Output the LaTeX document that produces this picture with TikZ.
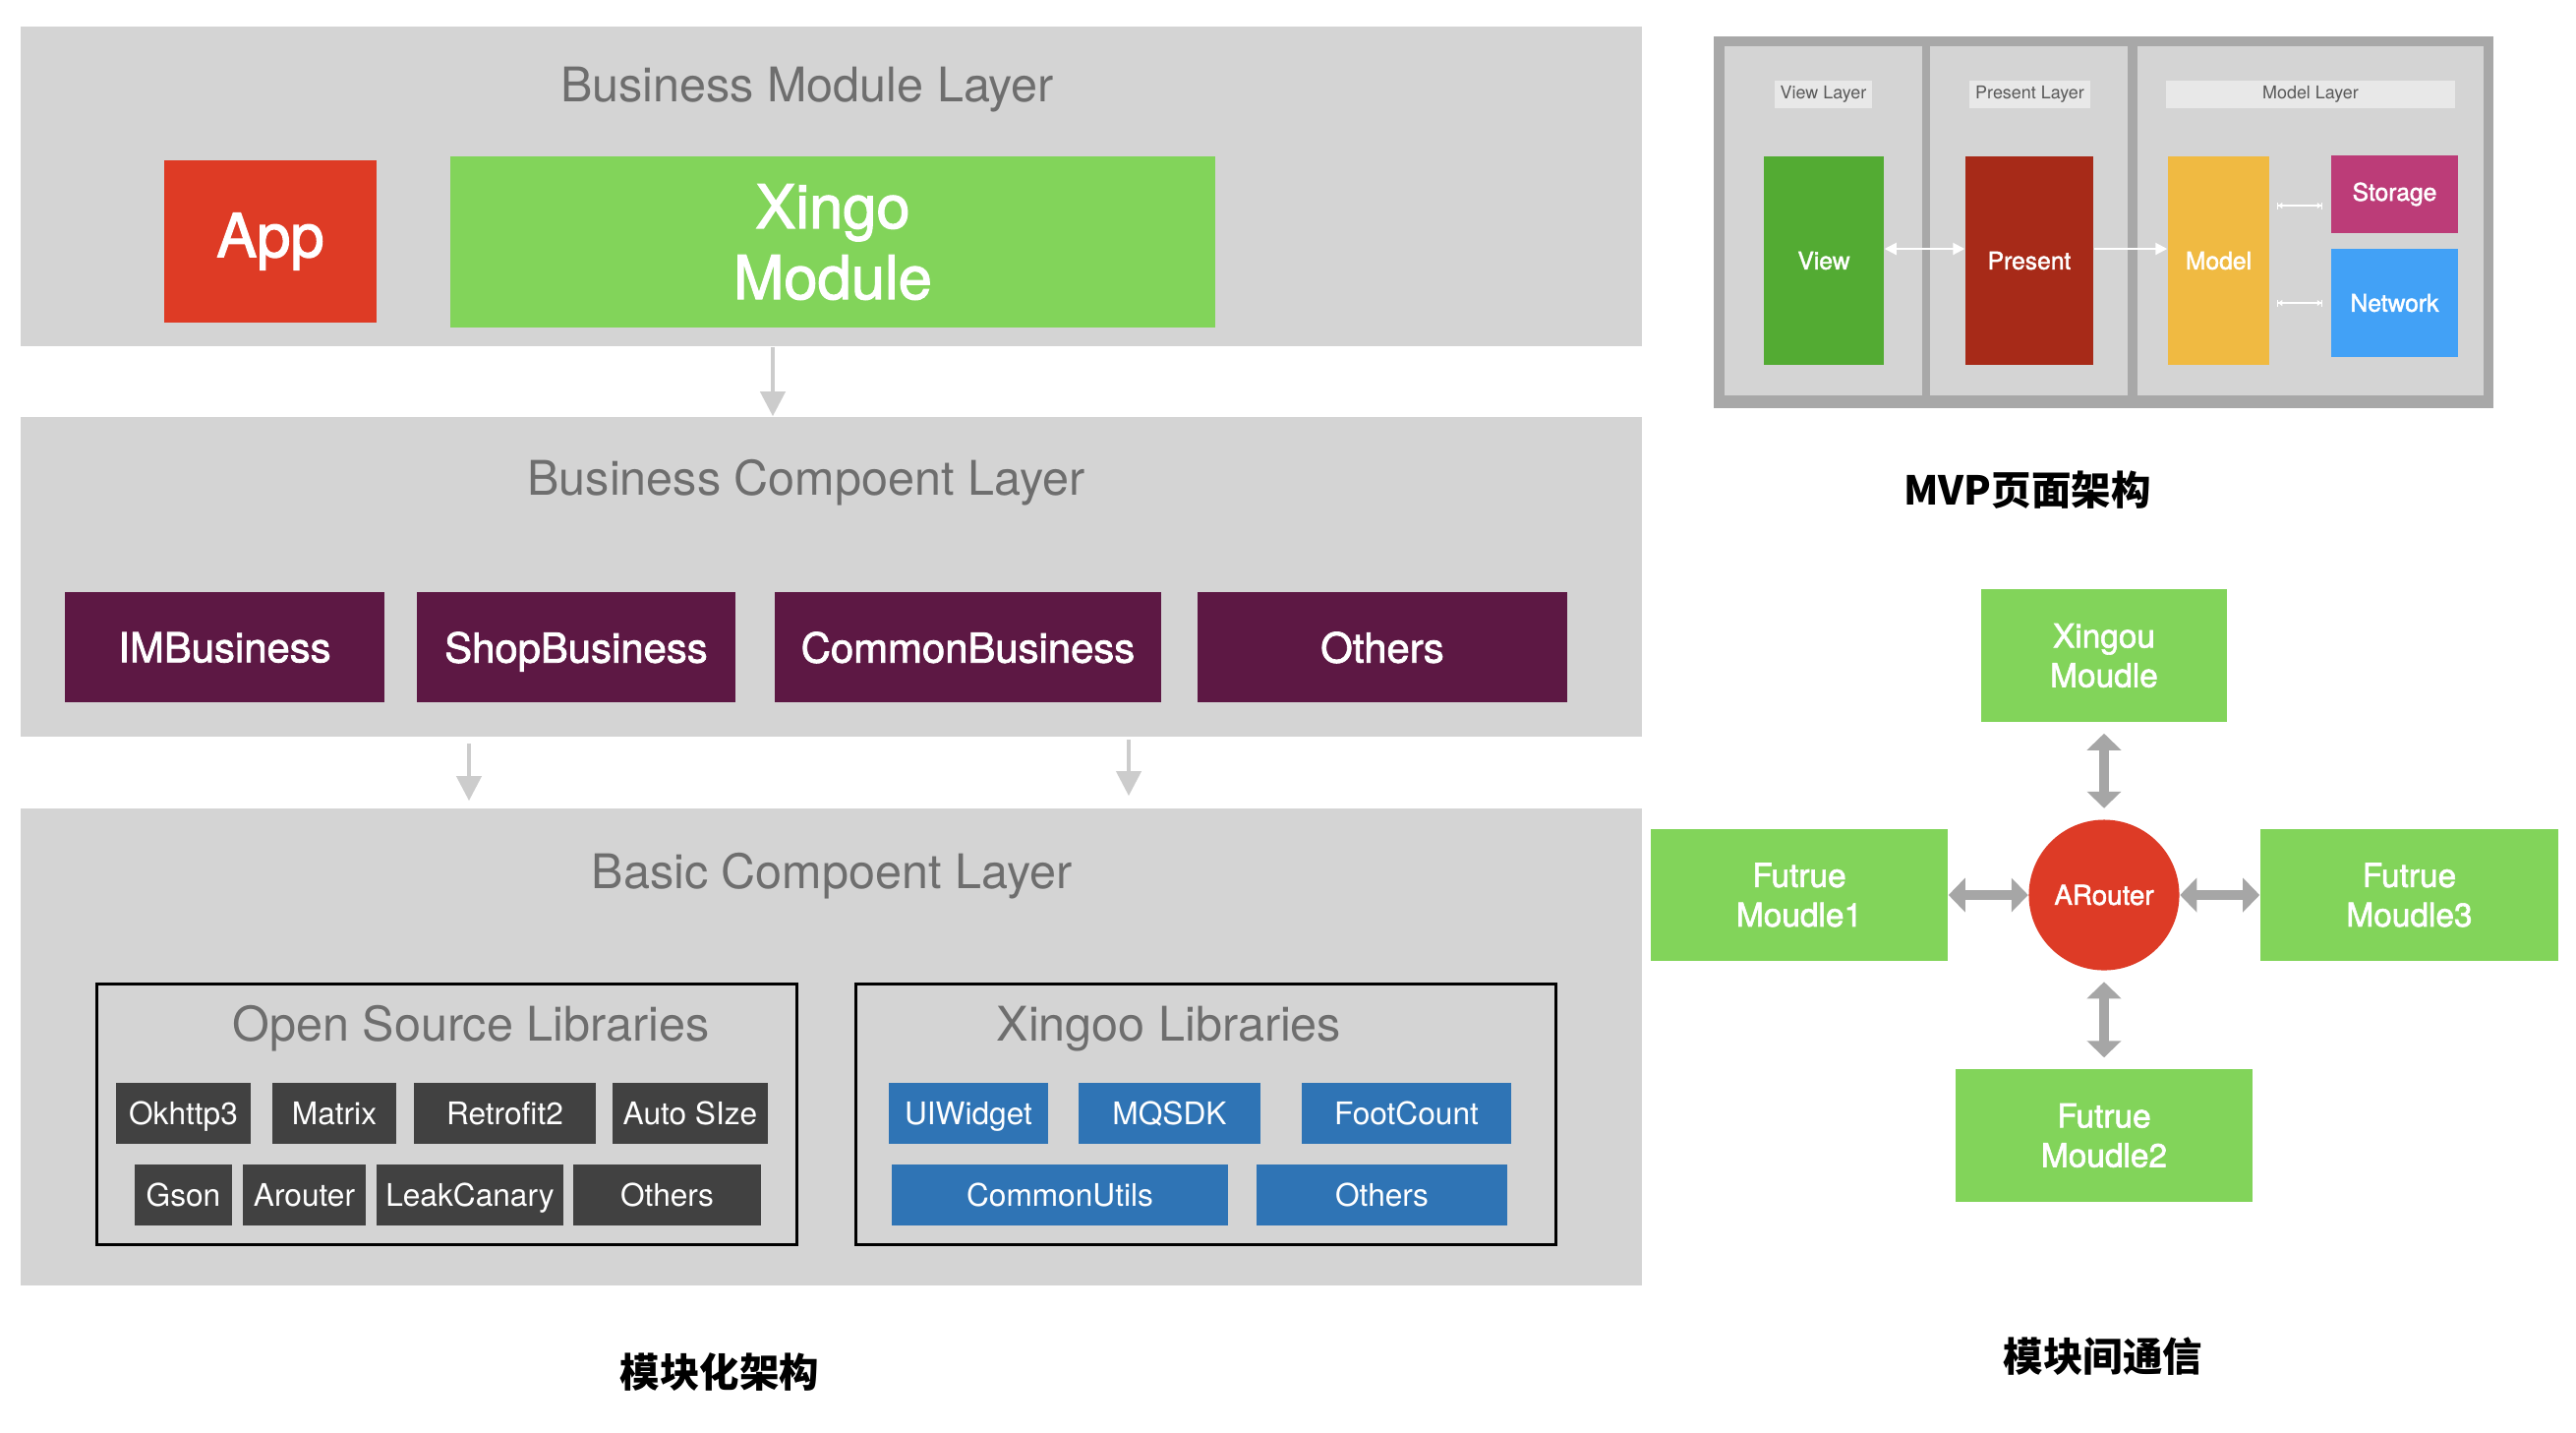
\documentclass[tikz,border=0pt]{standalone}
\usepackage{fontspec}
\setmainfont{TeX Gyre Heros}
\newfontfamily\medfont{TeX Gyre Heros}[FakeBold=1.8]
\newfontfamily\cjk{Noto Sans CJK SC}
\usetikzlibrary{arrows.meta}

\definecolor{panelgray}{HTML}{D4D4D4}
\definecolor{titlegray}{HTML}{6E6E6E}
\definecolor{appred}{HTML}{DE3B25}
\definecolor{modgreen}{HTML}{82D45A}
\definecolor{bizpurple}{HTML}{5D1844}
\definecolor{osgray}{HTML}{414141}
\definecolor{libblue}{HTML}{2F74B5}
\definecolor{arrowlight}{HTML}{CCCCCC}
\definecolor{mvpouter}{HTML}{A8A8A8}
\definecolor{mvplabel}{HTML}{E8E8E8}
\definecolor{viewgreen}{HTML}{53AB33}
\definecolor{presentred}{HTML}{A72A18}
\definecolor{modelyellow}{HTML}{F0BA42}
\definecolor{storagepink}{HTML}{BC3C78}
\definecolor{networkblue}{HTML}{42A1F6}
\definecolor{routerred}{HTML}{DD3B26}
\definecolor{routergray}{HTML}{A6A6A6}

\begin{document}
\begin{tikzpicture}[x=0.01cm, y=-0.01cm,
    layer/.style={fill=panelgray, minimum width=16.49cm, inner sep=0},
    layertitle/.style={text=titlegray, font=\fontsize{13.8}{16}\selectfont, anchor=base},
    bigbox/.style={text=white, font=\medfont\fontsize{17.5}{20.5}\selectfont, align=center, inner sep=0},
    bizbox/.style={fill=bizpurple, text=white, font=\medfont\fontsize{11.9}{14}\selectfont,
        minimum height=1.12cm, inner sep=0, text depth=0pt},
    libframe/.style={draw=black, line width=0.03cm, fill=panelgray,
        minimum width=7.11cm, minimum height=2.64cm, inner sep=0},
    osbox/.style={fill=osgray, text=white, font=\fontsize{9}{11}\selectfont,
        minimum height=0.62cm, inner sep=0, text depth=0pt},
    xlbox/.style={osbox, fill=libblue},
    layerarrow/.style={draw=arrowlight, line width=0.04cm,
        -{Triangle[width=0.25cm,length=0.25cm]}},
    mvpcol/.style={fill=panelgray, minimum height=3.55cm, inner sep=0},
    mvplab/.style={fill=mvplabel, text=black!65, font=\fontsize{5.1}{6}\selectfont,
        minimum height=0.28cm, inner sep=0},
    mvpbox/.style={text=white, font=\medfont\fontsize{7}{8}\selectfont, inner sep=0},
    mvparrow/.style={draw=white, line width=0.02cm},
    modbox/.style={fill=modgreen, text=white, font=\medfont\fontsize{9.5}{11.4}\selectfont,
        align=center, inner sep=0},
    routerarrow/.style={draw=routergray, line width=0.1cm,
        {Triangle[width=0.34cm,length=0.17cm]}-{Triangle[width=0.34cm,length=0.17cm]}},
    caption/.style={font=\cjk\bfseries\fontsize{11.5}{14}\selectfont}]

    \useasboundingbox (0,0) rectangle (2620,1456);

    % Business module layer
    \node[layer, minimum height=3.25cm] (bml) at (845.5,189.5) {};
    \node[layertitle] (bmltitle) at (821,103) {Business Module Layer};
    \node[bigbox, fill=appred, minimum width=2.16cm, minimum height=1.65cm] (app) at (275,245.5) {App};
    \node[bigbox, fill=modgreen, minimum width=7.78cm, minimum height=1.74cm] (xingo) at (847,246) {Xingo\\Module};

    % Business component layer
    \node[layer, minimum height=3.25cm] (bcl) at (845.5,586.5) {};
    \node[layertitle] (bcltitle) at (820,503) {Business Compoent Layer};
    \node[bizbox, minimum width=3.25cm] (imb) at (228.5,658) {IMBusiness};
    \node[bizbox, minimum width=3.24cm] (shopb) at (586,658) {ShopBusiness};
    \node[bizbox, minimum width=3.93cm] (commonb) at (984.5,658) {CommonBusiness};
    \node[bizbox, minimum width=3.76cm] (othersb) at (1406,658) {Others};

    % Basic component layer
    \node[layer, minimum height=4.85cm] (basic) at (845.5,1064.5) {};
    \node[layertitle] (basictitle) at (846,903) {Basic Compoent Layer};

    % Open source libraries
    \node[libframe] (oslib) at (454.5,1133) {};
    \node[layertitle] (ostitle) at (479,1058) {Open Source Libraries};
    \node[osbox, minimum width=1.37cm] (okhttp) at (186.5,1132) {Okhttp3};
    \node[osbox, minimum width=1.26cm] (matrix) at (340,1132) {Matrix};
    \node[osbox, minimum width=1.85cm] (retrofit) at (513.5,1132) {Retrofit2};
    \node[osbox, minimum width=1.58cm] (autosize) at (702,1132) {Auto SIze};
    \node[osbox, minimum width=0.99cm] (gson) at (186.5,1215) {Gson};
    \node[osbox, minimum width=1.25cm] (arouter) at (309.5,1215) {Arouter};
    \node[osbox, minimum width=1.90cm] (leak) at (478,1215) {LeakCanary};
    \node[osbox, minimum width=1.91cm] (othersos) at (678.5,1215) {Others};

    % Xingoo libraries
    \node[libframe] (xglib) at (1226.5,1133) {};
    \node[layertitle] (xgtitle) at (1189,1058) {Xingoo Libraries};
    \node[xlbox, minimum width=1.62cm] (uiwidget) at (985,1132) {UIWidget};
    \node[xlbox, minimum width=1.85cm] (mqsdk) at (1189.5,1132) {MQSDK};
    \node[xlbox, minimum width=2.13cm] (footcount) at (1430.5,1132) {FootCount};
    \node[xlbox, minimum width=3.42cm] (commonutils) at (1078,1215) {CommonUtils};
    \node[xlbox, minimum width=2.55cm] (othersxl) at (1405.5,1215) {Others};

    % Arrows between layers
    \coordinate (a1) at (786,0);
    \coordinate (a2) at (477,0);
    \coordinate (a3) at (1148,0);
    \draw[layerarrow] (bml.south -| a1) -- (bcl.north -| a1);
    \draw[layerarrow, shorten <=0.06cm, shorten >=0.07cm] (bcl.south -| a2) -- (basic.north -| a2);
    \draw[layerarrow, shorten <=0.02cm, shorten >=0.12cm] (bcl.south -| a3) -- (basic.north -| a3);

    \node[caption] (cap1) at (732,1395) {模块化架构};

    % MVP page architecture
    \node[fill=mvpouter, minimum width=7.93cm, minimum height=3.78cm, inner sep=0] (mvp) at (2139.5,226) {};
    \node[mvpcol, minimum width=2.01cm] (col1) at (1854.5,224.5) {};
    \node[mvpcol, minimum width=2.01cm] (col2) at (2063.5,224.5) {};
    \node[mvpcol, minimum width=3.52cm] (col3) at (2350,224.5) {};
    \node[mvplab, minimum width=0.99cm] (viewlab) at (1854.5,96) {View Layer};
    \node[mvplab, minimum width=1.23cm] (presentlab) at (2064.5,96) {Present Layer};
    \node[mvplab, minimum width=2.94cm] (modellab) at (2350,96) {Model Layer};
    \node[mvpbox, fill=viewgreen, minimum width=1.22cm, minimum height=2.12cm] (view) at (1855,265) {View};
    \node[mvpbox, fill=presentred, minimum width=1.30cm, minimum height=2.12cm] (present) at (2064,265) {Present};
    \node[mvpbox, fill=modelyellow, minimum width=1.03cm, minimum height=2.12cm] (model) at (2256.5,265) {Model};
    \node[mvpbox, fill=storagepink, minimum width=1.29cm, minimum height=0.79cm] (storage) at (2435.5,197.5) {Storage};
    \node[mvpbox, fill=networkblue, minimum width=1.29cm, minimum height=1.10cm] (network) at (2435.5,308) {Network};

    \draw[mvparrow, {Triangle[width=0.12cm,length=0.12cm]}-{Triangle[width=0.12cm,length=0.12cm]}]
        ([yshift=0.12cm]view.east) -- ([yshift=0.12cm]present.west);
    \draw[mvparrow, -{Triangle[width=0.12cm,length=0.12cm]}]
        ([yshift=0.12cm]present.east) -- ([yshift=0.12cm]model.west);
    \draw[mvparrow, line width=0.015cm, shorten <=0.07cm, shorten >=0.08cm,
        {Bar[width=0.07cm]Triangle[width=0.06cm,length=0.04cm]}-{Triangle[width=0.06cm,length=0.04cm]Bar[width=0.07cm]}]
        ([yshift=-0.115cm]model.east |- storage.west) -- ([yshift=-0.115cm]storage.west);
    \draw[mvparrow, line width=0.015cm, shorten <=0.07cm, shorten >=0.08cm,
        {Bar[width=0.07cm]Triangle[width=0.06cm,length=0.04cm]}-{Triangle[width=0.06cm,length=0.04cm]Bar[width=0.07cm]}]
        (model.east |- network.west) -- (network.west);

    \node[caption] (cap2) at (2062,498) {MVP页面架构};

    % Communication between modules
    \node[circle, fill=routerred, text=white, minimum size=1.53cm, inner sep=0,
        font=\medfont\fontsize{7.9}{9}\selectfont] (router) at (2140,910) {ARouter};
    \node[modbox, minimum width=2.50cm, minimum height=1.35cm] (xingou) at (2140,666.5) {Xingou\\Moudle};
    \node[modbox, minimum width=3.02cm, minimum height=1.34cm] (fm1) at (1830,910) {Futrue\\Moudle1};
    \node[modbox, minimum width=3.03cm, minimum height=1.34cm] (fm3) at (2450.5,910) {Futrue\\Moudle3};
    \node[modbox, minimum width=3.02cm, minimum height=1.35cm] (fm2) at (2140,1154.5) {Futrue\\Moudle2};

    \draw[routerarrow, shorten <=0.11cm, shorten >=0.11cm] (xingou) -- (router);
    \draw[routerarrow, shorten <=0.11cm, shorten >=0.11cm] (router) -- (fm2);
    \draw[routerarrow] (fm1) -- (router);
    \draw[routerarrow] (router) -- (fm3);

    \node[caption] (cap3) at (2139,1379) {模块间通信};
\end{tikzpicture}
\end{document}
